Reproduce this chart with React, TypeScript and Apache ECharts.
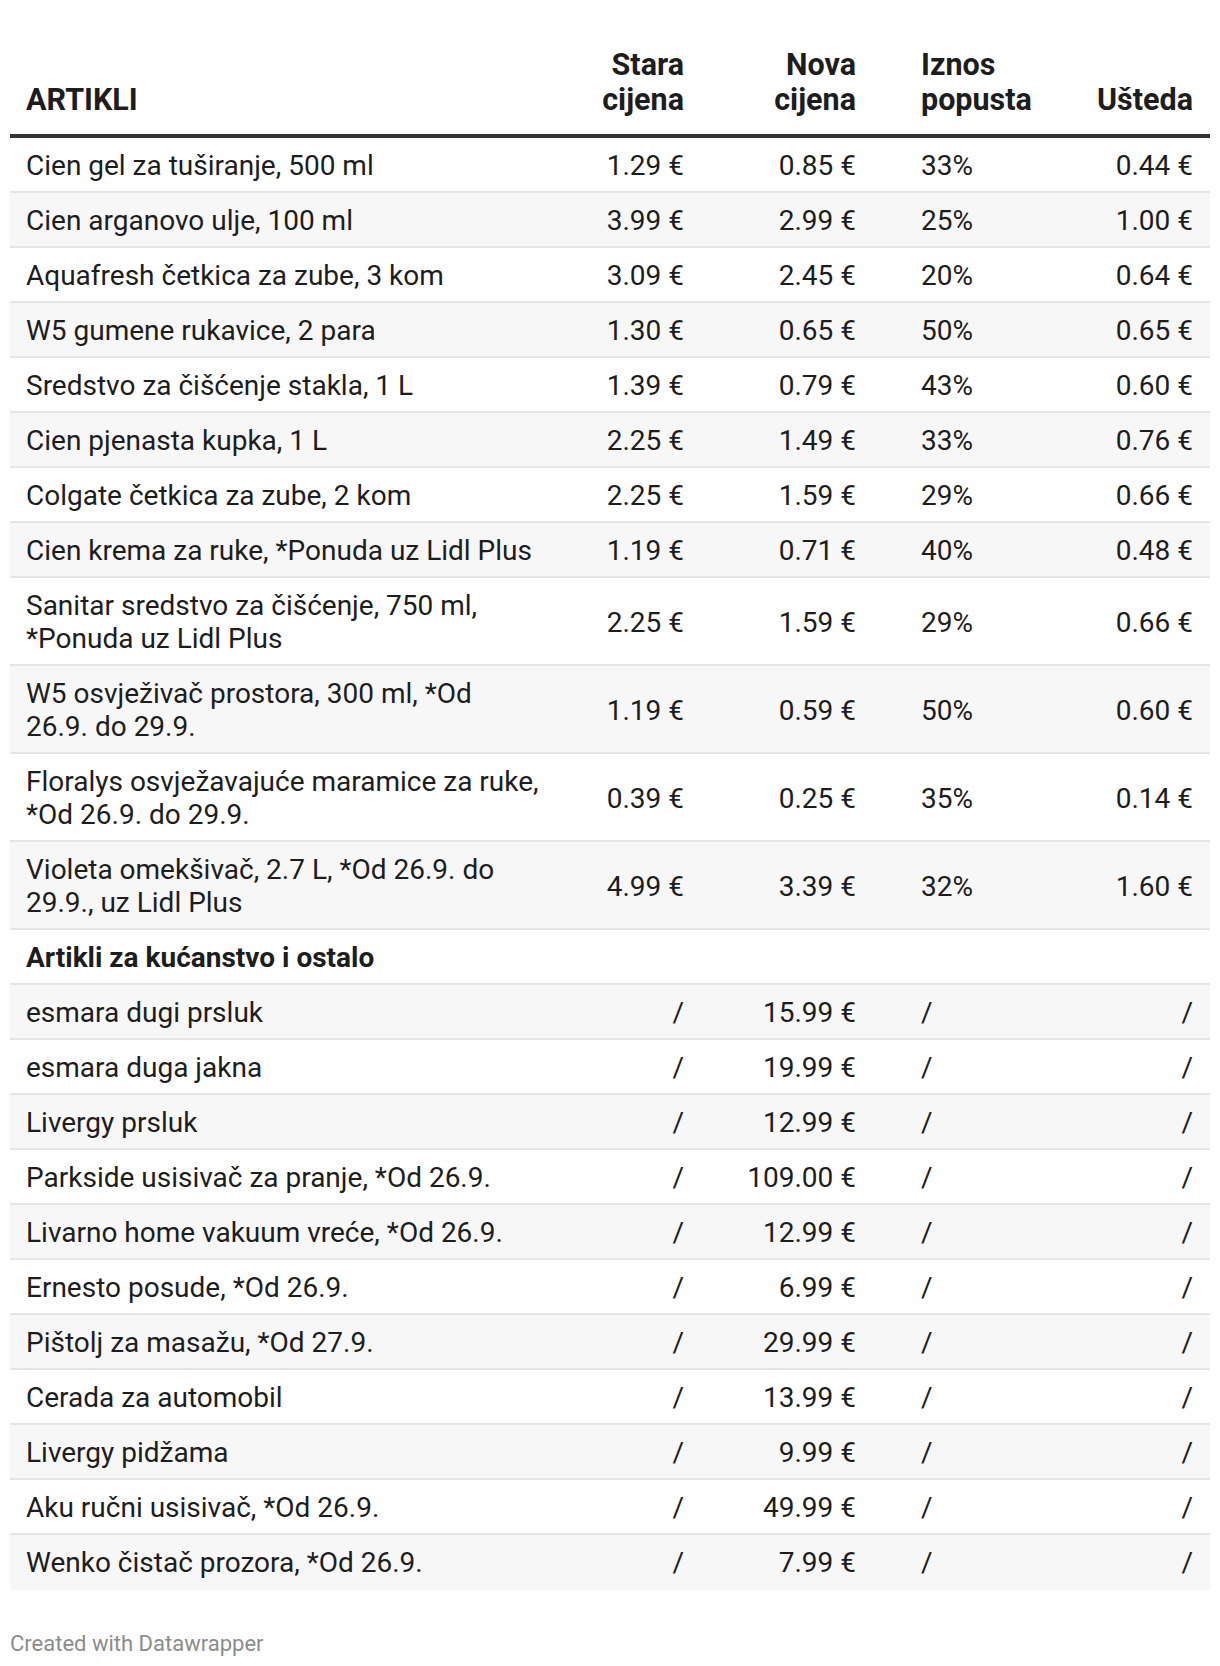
import React, { useEffect, useRef } from "react";
import * as echarts from "echarts";

// ---------- data ----------
const headerArtikli = ["ARTIKLI"];
const headerStara = ["Stara", "cijena"];
const headerNova = ["Nova", "cijena"];
const headerIznos = ["Iznos", "popusta"];
const headerUsteda = ["Ušteda"];

const names1 = [
  "Cien gel za tuširanje, 500 ml",
  "Cien arganovo ulje, 100 ml",
  "Aquafresh četkica za zube, 3 kom",
  "W5 gumene rukavice, 2 para",
  "Sredstvo za čišćenje stakla, 1 L",
  "Cien pjenasta kupka, 1 L",
  "Colgate četkica za zube, 2 kom",
  "Cien krema za ruke, *Ponuda uz Lidl Plus",
  "Sanitar sredstvo za čišćenje, 750 ml,\n*Ponuda uz Lidl Plus",
  "W5 osvježivač prostora, 300 ml, *Od\n26.9. do 29.9.",
  "Floralys osvježavajuće maramice za ruke,\n*Od 26.9. do 29.9.",
  "Violeta omekšivač, 2.7 L, *Od 26.9. do\n29.9., uz Lidl Plus",
];
const oldPrice1 = [1.29, 3.99, 3.09, 1.3, 1.39, 2.25, 2.25, 1.19, 2.25, 1.19, 0.39, 4.99];
const newPrice1 = [0.85, 2.99, 2.45, 0.65, 0.79, 1.49, 1.59, 0.71, 1.59, 0.59, 0.25, 3.39];
const discount1 = [33, 25, 20, 50, 43, 33, 29, 40, 29, 50, 35, 32];
const saving1 = [0.44, 1.0, 0.64, 0.65, 0.6, 0.76, 0.66, 0.48, 0.66, 0.6, 0.14, 1.6];

const sectionTitle = "Artikli za kućanstvo i ostalo";

const names2 = [
  "esmara dugi prsluk",
  "esmara duga jakna",
  "Livergy prsluk",
  "Parkside usisivač za pranje, *Od 26.9.",
  "Livarno home vakuum vreće, *Od 26.9.",
  "Ernesto posude, *Od 26.9.",
  "Pištolj za masažu, *Od 27.9.",
  "Cerada za automobil",
  "Livergy pidžama",
  "Aku ručni usisivač, *Od 26.9.",
  "Wenko čistač prozora, *Od 26.9.",
];
const newPrice2 = [15.99, 19.99, 12.99, 109.0, 12.99, 6.99, 29.99, 13.99, 9.99, 49.99, 7.99];

const footerText = "Created with Datawrapper";

// ---------- layout ----------
const FONT = "Roboto";
const FS = 28;
const HFS = 30.5;
const TEXT = "#1d1d1d";
const LINE_H = 33;
const PAD_V = 11;
const TABLE_LEFT = 10;
const TABLE_W = 1200;
const TABLE_TOP = 138;
// column anchors in table units
const COL_NAME = 16;
const COL_OLD = 674;
const COL_NEW = 846;
const COL_DISC = 911;
const COL_SAVE = 1183;

type Row = {
  name: string;
  bold: boolean;
  old: string;
  nw: string;
  disc: string;
  save: string;
};

const eur = (v: number | null) => (v == null ? "/" : v.toFixed(2) + " €");
const pct = (v: number | null) => (v == null ? "/" : v + "%");

const rows: Row[] = [];
names1.forEach((n, i) =>
  rows.push({
    name: n,
    bold: false,
    old: eur(oldPrice1[i]),
    nw: eur(newPrice1[i]),
    disc: pct(discount1[i]),
    save: eur(saving1[i]),
  })
);
rows.push({ name: sectionTitle, bold: true, old: "", nw: "", disc: "", save: "" });
names2.forEach((n, i) =>
  rows.push({ name: n, bold: false, old: "/", nw: eur(newPrice2[i]), disc: "/", save: "/" })
);

const rowData: number[][] = [];
let acc = 0;
rows.forEach((r, i) => {
  const lines = r.name.split("\n").length;
  const h = PAD_V * 2 + LINE_H * lines;
  rowData.push([0, acc, acc + h, i]);
  acc += h;
});
const TOTAL_H = acc;

export default function App() {
  const ref = useRef<HTMLDivElement>(null);
  useEffect(() => {
    if (!ref.current) return;
    const chart = echarts.init(ref.current, null, { renderer: "svg" });

    const headerText = (lines: string[], x: number, align: string) =>
      lines.map((t, k) => ({
        type: "text",
        x: TABLE_LEFT + x,
        y: 99 - (lines.length - 1 - k) * 35,
        style: {
          text: t,
          fill: TEXT,
          fontSize: HFS,
          fontWeight: "bold",
          fontFamily: FONT,
          textAlign: align,
          align: align,
          textVerticalAlign: "middle",
          verticalAlign: "middle",
        },
      }));

    const graphics: any[] = [
      ...headerText(headerArtikli, COL_NAME, "left"),
      ...headerText(headerStara, COL_OLD, "right"),
      ...headerText(headerNova, COL_NEW, "right"),
      ...headerText(headerIznos, COL_DISC, "left"),
      ...headerText(headerUsteda, COL_SAVE, "right"),
      {
        type: "line",
        shape: { x1: TABLE_LEFT, y1: 136, x2: TABLE_LEFT + TABLE_W, y2: 136 },
        style: { stroke: "#333333", lineWidth: 4 },
      },
      {
        type: "text",
        x: TABLE_LEFT,
        y: 1643,
        style: {
          text: footerText,
          fill: "#8c8c8c",
          fontSize: 22,
          fontFamily: FONT,
          textAlign: "left",
          align: "left",
          textVerticalAlign: "middle",
          verticalAlign: "middle",
        },
      },
    ];

    const txt = (t: string, x: number, y: number, align: string, bold: boolean) => ({
      type: "text",
      style: {
        text: t,
        x,
        y,
        fill: TEXT,
        fontSize: FS,
        fontWeight: bold ? "bold" : "normal",
        fontFamily: FONT,
        textAlign: align,
        align: align,
        textVerticalAlign: "middle",
        verticalAlign: "middle",
      },
    });

    chart.setOption({
      animation: false,
      grid: { left: TABLE_LEFT, top: TABLE_TOP, width: TABLE_W, height: TOTAL_H },
      xAxis: { type: "value", min: 0, max: TABLE_W, show: false },
      yAxis: { type: "value", min: 0, max: TOTAL_H, inverse: true, show: false },
      graphic: graphics,
      series: [
        {
          type: "custom",
          data: rowData,
          renderItem: (params: any, api: any) => {
            const idx = api.value(3);
            const r = rows[idx];
            const p0 = api.coord([0, api.value(1)]);
            const p1 = api.coord([TABLE_W, api.value(2)]);
            const cx = (v: number) => api.coord([v, 0])[0];
            const mid = (p0[1] + p1[1]) / 2;
            const children: any[] = [
              {
                type: "rect",
                shape: { x: p0[0], y: p0[1], width: p1[0] - p0[0], height: p1[1] - p0[1] },
                style: { fill: idx % 2 === 1 ? "#f7f7f7" : "#ffffff" },
              },
            ];
            if (idx < rows.length - 1) {
              children.push({
                type: "line",
                shape: { x1: p0[0], y1: p1[1] - 1, x2: p1[0], y2: p1[1] - 1 },
                style: { stroke: "#e5e5e5", lineWidth: 2 },
              });
            }
            const lines = r.name.split("\n");
            lines.forEach((l, k) => {
              const y = mid + (k - (lines.length - 1) / 2) * LINE_H;
              children.push(txt(l, cx(COL_NAME), y, "left", r.bold));
            });
            if (r.old) children.push(txt(r.old, cx(COL_OLD), mid, "right", false));
            if (r.nw) children.push(txt(r.nw, cx(COL_NEW), mid, "right", false));
            if (r.disc) children.push(txt(r.disc, cx(COL_DISC), mid, "left", false));
            if (r.save) children.push(txt(r.save, cx(COL_SAVE), mid, "right", false));
            return { type: "group", children };
          },
        },
      ],
    });
    return () => chart.dispose();
  }, []);
  return (
    <div
      ref={ref}
      style={{ position: "absolute", left: 0, top: 0, width: 1220, height: 1666, background: "#ffffff" }}
    />
  );
}
